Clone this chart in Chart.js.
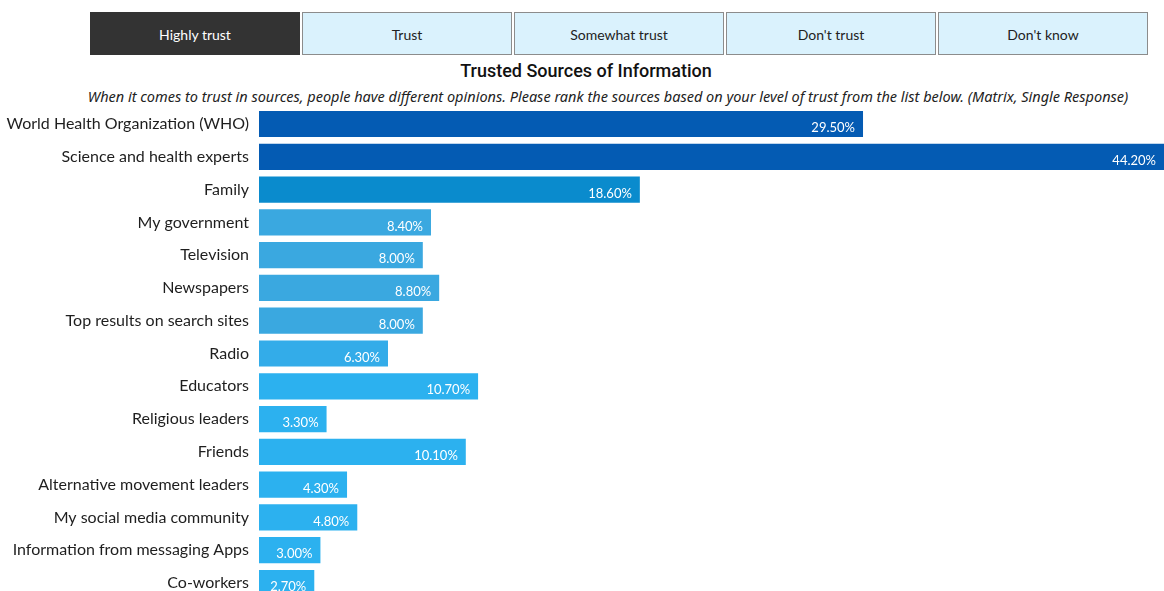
<!DOCTYPE html>
<html>
<head>
<meta charset="utf-8">
<script src="https://cdn.jsdelivr.net/npm/chart.js@4.4.1/dist/chart.umd.min.js"></script>
<style>
  html, body { margin: 0; padding: 0; background: #fff; overflow: hidden; width: 1164px; height: 591px; }
  .tabs { position: absolute; top: 12px; left: 90px; display: flex; gap: 2px; }
  .tab {
    width: 210px; height: 43px; box-sizing: border-box;
    border: 1px solid #8c8c8c; background: #daf2fd; color: #222;
    font: 14px Lato, sans-serif; display: flex; align-items: center; justify-content: center;
    padding-top: 2px;
  }
  .tab.active { background: #333333; border-color: #333333; color: #fff; }
  .title {
    position: absolute; left: 0; top: 60px; width: 1172px; text-align: center;
    font: 500 18px Roboto, sans-serif; line-height: 22px; color: #111;
  }
  .subtitle {
    position: absolute; left: 0; top: 87px; width: 1216px; text-align: center;
    font: italic 14.5px "Noto Sans", sans-serif; line-height: 18px; color: #222;
  }
  #wrap { position: absolute; left: 0; top: 88px; width: 1164px; height: 531px; }
</style>
</head>
<body>
<div class="tabs">
  <div class="tab active">Highly trust</div>
  <div class="tab">Trust</div>
  <div class="tab">Somewhat trust</div>
  <div class="tab">Don't trust</div>
  <div class="tab">Don't know</div>
</div>
<div class="title">Trusted Sources of Information</div>
<div class="subtitle">When it comes to trust in sources, people have different opinions. Please rank the sources based on your level of trust from the list below. (Matrix, Single Response)</div>
<div id="wrap"><canvas id="trust_chart"></canvas></div>
<script>
"use strict";

var sources = ["World Health Organization (WHO)", "Science and health experts", "Family", "My government",
    "Television", "Newspapers", "Top results on search sites", "Radio", "Educators", "Religious leaders",
    "Friends", "Alternative movement leaders", "My social media community", "Information from messaging Apps", "Co-workers"];
var highlyTrust = [29.5, 44.2, 18.6, 8.4, 8.0, 8.8, 8.0, 6.3, 10.7, 3.3, 10.1, 4.3, 4.8, 3.0, 2.7];
var barColors = ["#045bb3", "#045bb3", "#0a8bcd", "#3aa8e0", "#3aa8e0", "#3aa8e0", "#3aa8e0", "#33ace9",
    "#2cb1ef", "#2cb1ef", "#2cb1ef", "#2cb1ef", "#2cb1ef", "#2cb1ef", "#2cb1ef"];

// white percentage text at the end of each bar
var valueLabels = {
    id: 'valueLabels',
    afterDatasetsDraw: function (chart) {
        var ctx = chart.ctx;
        var meta = chart.getDatasetMeta(0);
        ctx.save();
        ctx.font = '13px Lato, sans-serif';
        ctx.fillStyle = '#ffffff';
        ctx.textAlign = 'right';
        ctx.textBaseline = 'middle';
        meta.data.forEach(function (bar, i) {
            ctx.fillText(highlyTrust[i].toFixed(2) + '%', bar.x - 8, bar.y + 4);
        });
        ctx.restore();
    }
};

new Chart(document.getElementById("trust_chart").getContext("2d"), {
    type: 'bar',
    data: {
        labels: sources,
        datasets: [{
            label: "Highly trust",
            data: highlyTrust,
            backgroundColor: barColors,
            barPercentage: 0.8,
            categoryPercentage: 1
        }]
    },
    options: {
        indexAxis: 'y',
        responsive: true,
        maintainAspectRatio: false,
        animation: false,
        layout: { padding: 0 },
        plugins: {
            legend: { display: false },
            tooltip: { enabled: false }
        },
        scales: {
            x: {
                display: false,
                min: 0,
                max: 44.2
            },
            y: {
                grid: { display: false, drawTicks: false },
                border: { display: false },
                ticks: {
                    color: '#1e1e1e',
                    padding: 10,
                    font: { family: 'Lato', size: 16 }
                },
                afterFit: function (scale) { scale.width = 259; }
            }
        }
    },
    plugins: [valueLabels]
});
</script>
</body>
</html>
